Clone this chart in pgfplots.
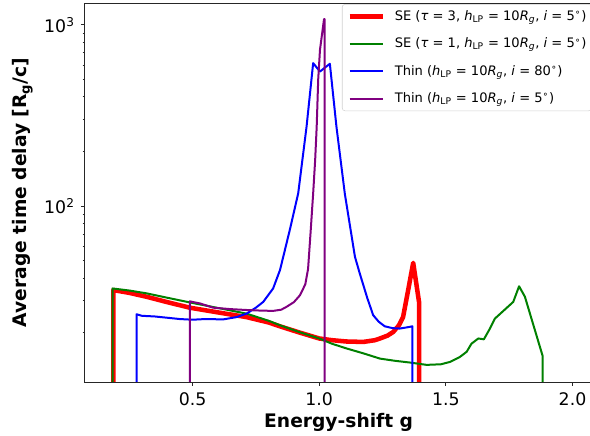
\documentclass[border=0pt]{standalone}
\usepackage{fontspec}
\setmainfont{DejaVu Sans}
\usepackage{pgfplots}
\pgfplotsset{compat=1.18}
\definecolor{mplgreen}{RGB}{0,128,0}
\definecolor{mplpurple}{RGB}{128,0,128}
\begin{document}
\begin{tikzpicture}
\begin{axis}[
  name=ax, scale only axis, width=381pt, height=284.25pt,
  xmin=0.074, xmax=2.0795, ymode=log, ymin=10.7, ymax=1318,
  xtick={0.5,1.0,1.5,2.0},
  ytick={100,1000}, yticklabels={10\textsuperscript{2},10\textsuperscript{3}},
  minor ytick={20,30,40,50,60,70,80,90,200,300,400,500,600,700,800,900},
  tick align=outside, tick pos=left,
  axis line style={black!85, line width=0.6pt},
  every tick/.style={black!85, line width=0.6pt},
  major tick length=2.8pt, minor tick length=1.6pt,
  /pgf/number format/assume math mode=true,
  x tick label style={/pgf/number format/fixed, /pgf/number format/fixed zerofill, /pgf/number format/precision=1, inner sep=0pt, anchor=north, yshift=-5pt},
  y tick label style={inner sep=0pt, anchor=east, xshift=-4.5pt},
  tick label style={font=\fontsize{13}{15}\selectfont},
  xlabel={Energy-shift g},
  ylabel={Average time delay [R\textsubscript{g}/c]},
  label style={font=\fontsize{14}{16}\selectfont\bfseries, inner sep=0pt},
  xlabel style={at={(axis description cs:0.5,-0.082)}, anchor=north},
  ylabel style={at={(axis description cs:-0.102,0.5)}, anchor=south},
  legend cell align=left,
  legend image code/.code={\draw[#1] (0pt,0pt) -- (24.75pt,0pt);},
  legend style={at={(rel axis cs:0.5065,0.997)}, anchor=north west,
    draw=black!18, rounded corners=2pt, fill=white, fill opacity=0.85, text opacity=1,
    font=\fontsize{9.8}{12}\selectfont, inner xsep=3.75pt, inner ysep=4.6pt,
    row sep=11.6pt, nodes={inner sep=0pt},
    /tikz/every odd column/.append style={column sep=7.5pt}},
]
\addplot[red, line width=3.4pt, line join=round] coordinates {
(0.187,1) (0.187,34.4) (0.25,33.2) (0.318,31.6) (0.4,29.5) (0.489,27.5) (0.6,25.9)
(0.713,24.4) (0.8,22.8) (0.845,21.7) (0.92,20.1) (1.0,18.6) (1.05,18.2) (1.107,17.9)
(1.174,17.8) (1.22,18.2) (1.24,18.6) (1.27,19.3) (1.292,20.2) (1.315,22) (1.331,24.4)
(1.351,34.3) (1.371,48.6) (1.394,29.6) (1.394,1)};
\addlegendentry{SE (\textit{τ} = 3, \textit{h}\textsubscript{LP} = 10\textit{R}\textsubscript{\textit{g}}, \textit{i} = 5\textsuperscript{∘})}
\addplot[mplgreen, line width=1.5pt, line join=round] coordinates {
(0.184,1) (0.184,35.1) (0.25,34.2) (0.318,33.0) (0.4,31.2) (0.489,29.4) (0.6,27.4)
(0.713,25.5) (0.8,23.3) (0.845,22.0) (0.92,20.2) (1.0,18.6) (1.05,17.4) (1.107,16.4)
(1.174,15.4) (1.24,14.4) (1.3,14.0) (1.358,13.7) (1.424,13.3) (1.48,13.4) (1.516,13.8)
(1.555,14.7) (1.582,15.7) (1.601,17.4) (1.628,18.6) (1.65,18.4) (1.674,21.1) (1.693,23.9)
(1.766,29.6) (1.789,36.1) (1.812,31.6) (1.882,14.9) (1.882,1)};
\addlegendentry{SE (\textit{τ} = 1, \textit{h}\textsubscript{LP} = 10\textit{R}\textsubscript{\textit{g}}, \textit{i} = 5\textsuperscript{∘})}
\addplot[blue, line width=1.5pt, line join=round] coordinates {
(0.279,1) (0.279,25.3) (0.30,24.8) (0.35,24.6) (0.40,24.2) (0.45,23.8) (0.50,23.6)
(0.55,23.8) (0.621,23.7) (0.674,24.4) (0.713,25.5) (0.75,27.5) (0.779,29.6) (0.818,35.1)
(0.845,44.3) (0.858,52.5) (0.885,75) (0.917,117.5) (0.95,274) (0.976,614) (1.003,552)
(1.042,609) (1.068,274) (1.101,117) (1.141,52.5) (1.160,42.5) (1.19,31) (1.213,25.0)
(1.235,23) (1.259,21.7) (1.29,21.2) (1.318,21.1) (1.345,21.4) (1.368,21.7) (1.368,1)};
\addlegendentry{Thin (\textit{h}\textsubscript{LP} = 10\textit{R}\textsubscript{\textit{g}}, \textit{i} = 80\textsuperscript{∘})}
\addplot[mplpurple, line width=1.5pt, line join=round] coordinates {
(0.489,1) (0.489,29.8) (0.53,29.0) (0.581,27.5) (0.65,27.0) (0.713,26.7) (0.77,26.5)
(0.818,26.4) (0.85,26.8) (0.871,27.8) (0.9,29.5) (0.924,32.2) (0.945,37) (0.956,45)
(0.966,72) (0.976,117) (0.984,180) (0.990,274) (0.996,500) (1.003,728) (1.019,1075)
(1.021,1075) (1.021,1)};
\addlegendentry{Thin (\textit{h}\textsubscript{LP} = 10\textit{R}\textsubscript{\textit{g}}, \textit{i} = 5\textsuperscript{∘})}
\end{axis}
\pgfresetboundingbox
\path[use as bounding box] ([shift={(-63.5pt,-40.5pt)}]ax.south west) rectangle ([shift={(379pt,286.5pt)}]ax.south west);
\end{tikzpicture}
\end{document}
